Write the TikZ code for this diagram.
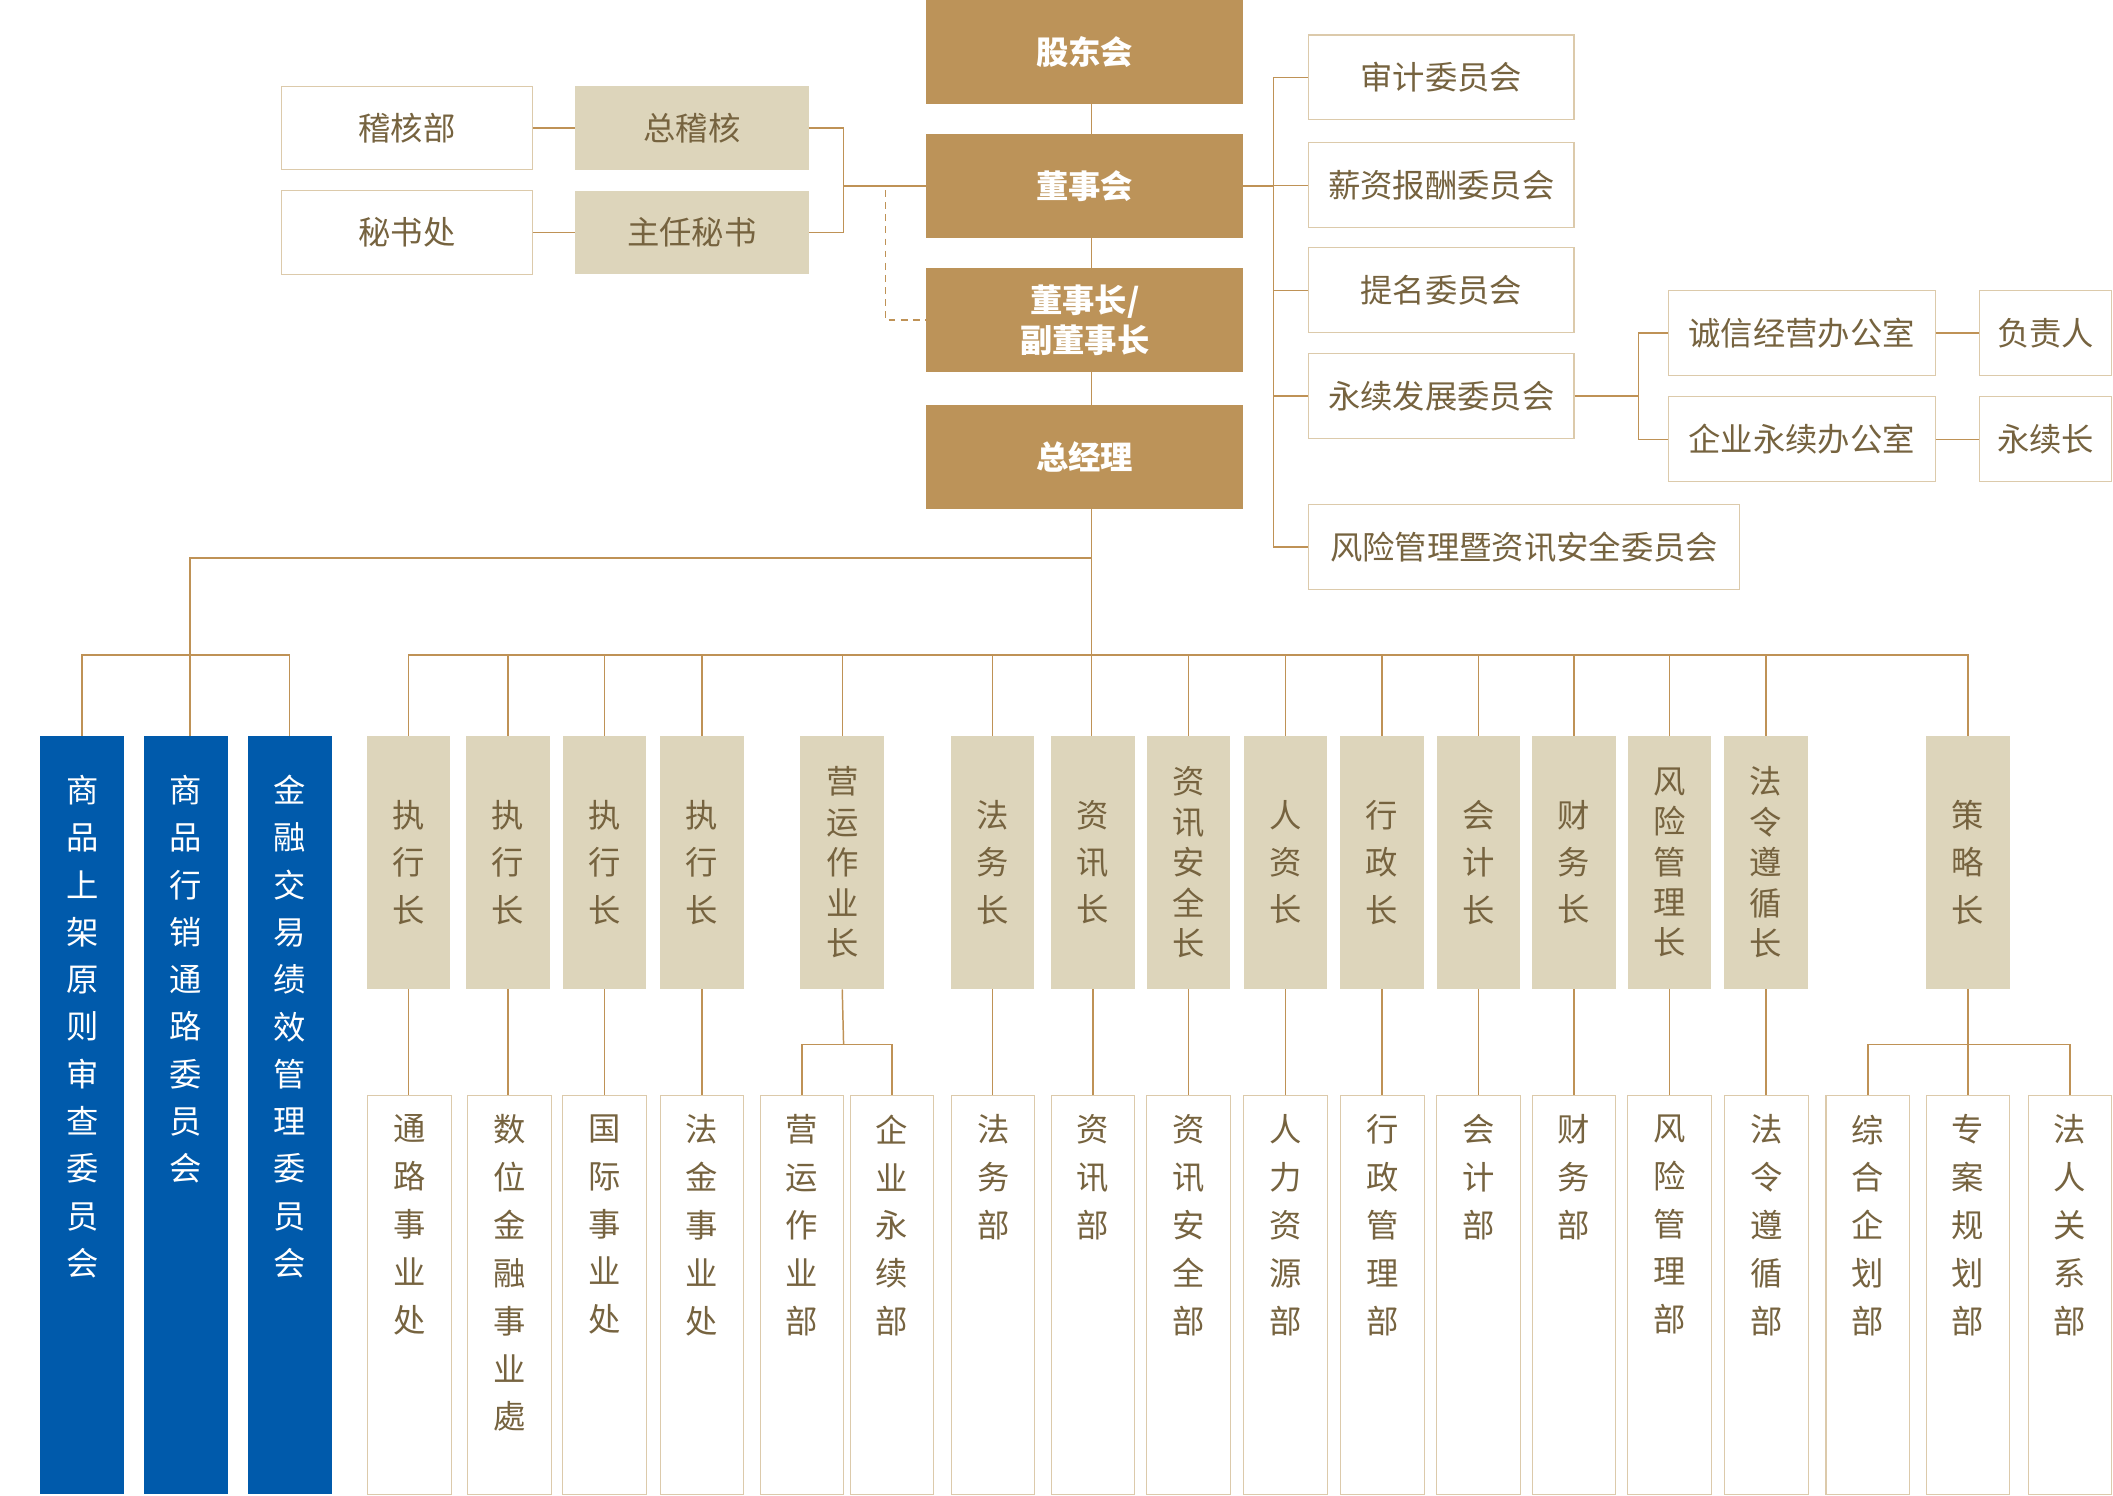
\documentclass[tikz,border=0pt]{standalone}
\usepackage{fontspec}
\setmainfont{Noto Sans CJK SC}
\usetikzlibrary{positioning}
\usepackage{xcolor}

\definecolor{goldc}{HTML}{BC9359}
\definecolor{beigec}{HTML}{DDD5BB}
\definecolor{edgec}{HTML}{DCCAAB}
\definecolor{linec}{HTML}{BF9256}
\definecolor{inkc}{HTML}{76633F}
\definecolor{bluec}{HTML}{005AAB}

\tikzset{
    lead/.style={rectangle, fill=goldc, text=white, font=\fontsize{24}{30}\selectfont\bfseries, minimum width=235pt, minimum height=77pt, align=center, inner sep=0pt},
    plain/.style={rectangle, draw=edgec, line width=0.8pt, fill=white, text=inkc, font=\fontsize{24}{30}\selectfont, minimum height=63pt, inner sep=0pt},
    sand/.style={rectangle, fill=beigec, text=inkc, font=\fontsize{24}{30}\selectfont, minimum height=62pt, inner sep=0pt},
    chief/.style={rectangle, fill=beigec, text=inkc, font=\fontsize{24}{35}\selectfont, minimum width=62pt, minimum height=188pt, align=center, inner sep=0pt},
    dept/.style={rectangle, draw=edgec, line width=0.8pt, fill=white, minimum width=62pt, minimum height=296pt},
    board/.style={rectangle, fill=bluec, minimum width=62pt, minimum height=563pt},
    vtxt/.style={text=inkc, font=\fontsize{24}{35.5}\selectfont, align=center, inner sep=0pt, anchor=north},
    btxt/.style={vtxt, text=white, font=\fontsize{24}{35.1}\selectfont},
    link/.style={draw=linec, line width=1.1pt},
}

\begin{document}
\begin{tikzpicture}[x=1pt, y=-1pt]
    \useasboundingbox (0,0) rectangle (1568,1110);

    % Board column
    \node[lead] (gdh) at (805,38.5) {股东会};
    \node[lead] (dsh) at (805,138) {董事会};
    \node[lead] (dsz) at (805,237.5) {董事长/\\副董事长};
    \node[lead] (zjl) at (805,339) {总经理};

    % Audit and secretary
    \node[plain, minimum width=186pt, minimum height=62pt] (jhb) at (302,95) {稽核部};
    \node[sand, minimum width=173pt] (zjh) at (513.5,95) {总稽核};
    \node[plain, minimum width=186pt, minimum height=62pt] (msc) at (302,172.5) {秘书处};
    \node[sand, minimum width=173pt] (zrms) at (513.5,172.5) {主任秘书};

    % Committees
    \node[plain, minimum width=197pt] (sjwy) at (1069.5,57.5) {审计委员会};
    \node[plain, minimum width=197pt] (xzwy) at (1069.5,137.5) {薪资报酬委员会};
    \node[plain, minimum width=197pt] (tmwy) at (1069.5,215.5) {提名委员会};
    \node[plain, minimum width=197pt] (yxwy) at (1069.5,294) {永续发展委员会};
    \node[plain, minimum width=320pt] (fxwy) at (1131,406) {风险管理暨资讯安全委员会};

    % Offices
    \node[plain, minimum width=198pt] (cxbgs) at (1337,247) {诚信经营办公室};
    \node[plain, minimum width=198pt] (qybgs) at (1337,326) {企业永续办公室};
    \node[plain, minimum width=98pt] (fzr) at (1518,247) {负责人};
    \node[plain, minimum width=98pt] (yxz) at (1518,326) {永续长};

    % Blue committees
    \node[board] (bw1) at (61,827.5) {};
    \node[board] (bw2) at (138,827.5) {};
    \node[board] (bw3) at (215,827.5) {};
    \node[btxt] (bw1t) at (61,575) {商\\品\\上\\架\\原\\则\\审\\查\\委\\员\\会};
    \node[btxt] (bw2t) at (138,575) {商\\品\\行\\销\\通\\路\\委\\员\\会};
    \node[btxt] (bw3t) at (215,575) {金\\融\\交\\易\\绩\\效\\管\\理\\委\\员\\会};

    % Chiefs
    \node[chief] (zx1) at (303,640) {执\\行\\长};
    \node[chief] (zx2) at (377,640) {执\\行\\长};
    \node[chief] (zx3) at (448.5,640) {执\\行\\长};
    \node[chief] (zx4) at (521,640) {执\\行\\长};
    \node[chief, font=\fontsize{24}{30}\selectfont] (yyz) at (625,640) {营\\运\\作\\业\\长};
    \node[chief] (fwz) at (736.5,640) {法\\务\\长};
    \node[chief] (zxz) at (811,640) {资\\讯\\长};
    \node[chief, font=\fontsize{24}{30}\selectfont] (aqz) at (882,640) {资\\讯\\安\\全\\长};
    \node[chief] (rzz) at (954,640) {人\\资\\长};
    \node[chief] (xzz) at (1025.5,640) {行\\政\\长};
    \node[chief] (kjz) at (1097,640) {会\\计\\长};
    \node[chief] (cwz) at (1168,640) {财\\务\\长};
    \node[chief, font=\fontsize{24}{30}\selectfont] (fxz) at (1239,640) {风\\险\\管\\理\\长};
    \node[chief, font=\fontsize{24}{30}\selectfont] (flz) at (1310.5,640) {法\\令\\遵\\循\\长};
    \node[chief] (clz) at (1460.5,640) {策\\略\\长};

    % Departments
    \node[dept] (tl) at (304,961) {};
    \node[dept] (sw) at (378,961) {};
    \node[dept] (gj) at (448.5,961) {};
    \node[dept] (fj) at (521,961) {};
    \node[dept] (yyb) at (595,961) {};
    \node[dept] (qyb) at (662,961) {};
    \node[dept] (fwb) at (737,961) {};
    \node[dept] (zxb) at (811,961) {};
    \node[dept] (aqb) at (882,961) {};
    \node[dept] (rlb) at (954,961) {};
    \node[dept] (xzb) at (1026,961) {};
    \node[dept] (kjb) at (1097,961) {};
    \node[dept] (cwb) at (1168,961) {};
    \node[dept] (fxb) at (1239,961) {};
    \node[dept] (flb) at (1311,961) {};
    \node[dept] (zhb) at (1386,961) {};
    \node[dept] (zab) at (1460.5,961) {};
    \node[dept] (frb) at (1536,961) {};

    \node[vtxt] (tlt) at (304,827) {通\\路\\事\\业\\处};
    \node[vtxt] (swt) at (378,827) {数\\位\\金\\融\\事\\业\\處};
    \node[vtxt] (gjt) at (448.5,827) {国\\际\\事\\业\\处};
    \node[vtxt] (fjt) at (521,827) {法\\金\\事\\业\\处};
    \node[vtxt] (yybt) at (595,827) {营\\运\\作\\业\\部};
    \node[vtxt] (qybt) at (662,827) {企\\业\\永\\续\\部};
    \node[vtxt] (fwbt) at (737,827) {法\\务\\部};
    \node[vtxt] (zxbt) at (811,827) {资\\讯\\部};
    \node[vtxt] (aqbt) at (882,827) {资\\讯\\安\\全\\部};
    \node[vtxt] (rlbt) at (954,827) {人\\力\\资\\源\\部};
    \node[vtxt] (xzbt) at (1026,827) {行\\政\\管\\理\\部};
    \node[vtxt] (kjbt) at (1097,827) {会\\计\\部};
    \node[vtxt] (cwbt) at (1168,827) {财\\务\\部};
    \node[vtxt] (fxbt) at (1239,827) {风\\险\\管\\理\\部};
    \node[vtxt] (flbt) at (1311,827) {法\\令\\遵\\循\\部};
    \node[vtxt] (zhbt) at (1386,827) {综\\合\\企\\划\\部};
    \node[vtxt] (zabt) at (1460.5,827) {专\\案\\规\\划\\部};
    \node[vtxt] (frbt) at (1536,827) {法\\人\\关\\系\\部};

    % Bends and junctions
    \coordinate (spine) at (810,486);
    \coordinate (lbr) at (626,138);
    \coordinate (dash0) at (657,141);
    \coordinate (rbus) at (945,138);
    \coordinate (obr) at (1216,294);
    \coordinate (lturn) at (141,414);
    \coordinate (lbus) at (141,486);
    \coordinate (ybr) at (626,775);
    \coordinate (sbr) at (1460.5,775);

    % Main spine
    \draw[link] (gdh.south -| spine) -- (dsh.north -| spine);
    \draw[link] (dsh.south -| spine) -- (dsz.north -| spine);
    \draw[link] (dsz.south -| spine) -- (zjl.north -| spine);
    \draw[link] (zjl.south -| spine) -- (spine) -- (zxz.north -| spine);

    % Audit side
    \draw[link] (jhb) -- (zjh);
    \draw[link] (msc) -- (zrms);
    \draw[link] (zjh.east) -| (lbr) |- (zrms.east);
    \draw[link] (lbr) -- (dsh.west);
    \draw[link, dash pattern=on 5pt off 4pt] (dash0) |- (dsz.west);

    % Committee side
    \draw[link] (dsh.east) -- (rbus);
    \draw[link] (sjwy.west) -| (fxwy.west -| rbus) -- (fxwy.west);
    \draw[link] (rbus |- xzwy.west) -- (xzwy.west);
    \draw[link] (rbus |- tmwy.west) -- (tmwy.west);
    \draw[link] (rbus |- yxwy.west) -- (yxwy.west);
    \draw[link] (yxwy.east) -- (obr);
    \draw[link] (cxbgs.west) -| (obr |- qybgs.west) -- (qybgs.west);
    \draw[link] (cxbgs) -- (fzr);
    \draw[link] (qybgs) -- (yxz);

    % Blue committees
    \draw[link] (spine |- lturn) -- (lturn) -- (lbus) -- (bw2.north -| lbus);
    \draw[link] (bw1.north) |- (lbus) -| (bw3.north);

    % Chief bus
    \draw[link] (zx1.north) |- (spine) -| (clz.north);
    \draw[link] (zx2.north) -- (zx2.north |- spine);
    \draw[link] (zx3.north) -- (zx3.north |- spine);
    \draw[link] (zx4.north) -- (zx4.north |- spine);
    \draw[link] (yyz.north) -- (yyz.north |- spine);
    \draw[link] (fwz.north) -- (fwz.north |- spine);
    \draw[link] (aqz.north) -- (aqz.north |- spine);
    \draw[link] (rzz.north) -- (rzz.north |- spine);
    \draw[link] (xzz.north) -- (xzz.north |- spine);
    \draw[link] (kjz.north) -- (kjz.north |- spine);
    \draw[link] (cwz.north) -- (cwz.north |- spine);
    \draw[link] (fxz.north) -- (fxz.north |- spine);
    \draw[link] (flz.north) -- (flz.north |- spine);

    % Chiefs to departments
    \draw[link] (zx1.south) -- (zx1.south |- tl.north);
    \draw[link] (zx2.south) -- (zx2.south |- sw.north);
    \draw[link] (zx3.south) -- (zx3.south |- gj.north);
    \draw[link] (zx4.south) -- (zx4.south |- fj.north);
    \draw[link] (yyz.south) -- (ybr);
    \draw[link] (yyb.north) |- (ybr) -| (qyb.north);
    \draw[link] (fwz.south) -- (fwz.south |- fwb.north);
    \draw[link] (zxz.south) -- (zxz.south |- zxb.north);
    \draw[link] (aqz.south) -- (aqz.south |- aqb.north);
    \draw[link] (rzz.south) -- (rzz.south |- rlb.north);
    \draw[link] (xzz.south) -- (xzz.south |- xzb.north);
    \draw[link] (kjz.south) -- (kjz.south |- kjb.north);
    \draw[link] (cwz.south) -- (cwz.south |- cwb.north);
    \draw[link] (fxz.south) -- (fxz.south |- fxb.north);
    \draw[link] (flz.south) -- (flz.south |- flb.north);
    \draw[link] (clz.south) -- (zab.north);
    \draw[link] (zhb.north) |- (sbr) -| (frb.north);
\end{tikzpicture}
\end{document}
